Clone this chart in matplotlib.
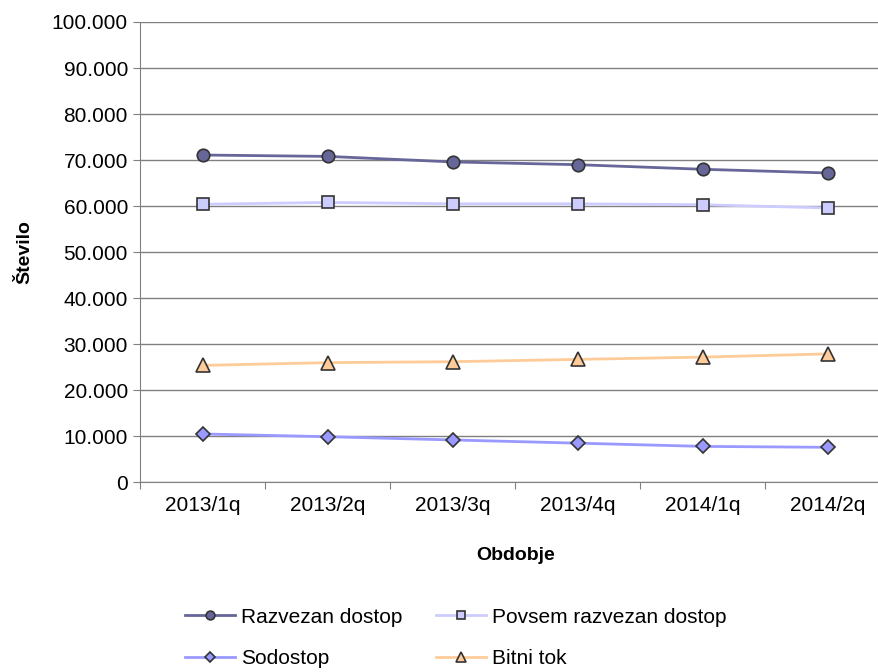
import numpy as np
import matplotlib.pyplot as plt
from matplotlib.ticker import FuncFormatter, FixedLocator

plt.rcParams['font.family'] = ['Liberation Sans', 'DejaVu Sans']

# --- podatki ---
obdobja = ['2013/1q', '2013/2q', '2013/3q', '2013/4q', '2014/1q', '2014/2q']
razvezan = [71100, 70800, 69600, 69000, 68000, 67200]
povsem = [60400, 60800, 60500, 60500, 60300, 59600]
sodostop = [10500, 9900, 9200, 8500, 7800, 7600]
bitni_tok = [25400, 26000, 26200, 26700, 27200, 27900]

fig = plt.figure(figsize=(8.79, 6.72), dpi=100)
ax = fig.add_axes([140.5 / 879, (672 - 482.3) / 672, 750 / 879, (482.3 - 22) / 672])

x = np.arange(len(obdobja))
edge = '#333333'
l1, = ax.plot(x, razvezan, color='#666699', lw=2, marker='o', ms=9, mfc='#666699', mec=edge, mew=1.2,
              label='Razvezan dostop', zorder=3)
l2, = ax.plot(x, povsem, color='#ccccff', lw=2, marker='s', ms=9, mfc='#ccccff', mec=edge, mew=1.2,
              label='Povsem razvezan dostop', zorder=3)
l3, = ax.plot(x, sodostop, color='#9999ff', lw=2, marker='D', ms=7, mfc='#9999ff', mec=edge, mew=1.2,
              label='Sodostop', zorder=3)
l4, = ax.plot(x, bitni_tok, color='#ffcc99', lw=2, marker='^', ms=10, mfc='#ffcc99', mec=edge, mew=1.2,
              label='Bitni tok', zorder=3)

ax.set_xlim(-0.5, len(obdobja) - 0.5)
ax.set_ylim(0, 100000)
ax.set_yticks(np.arange(0, 100001, 10000))
ax.yaxis.set_major_formatter(FuncFormatter(lambda v, p: f'{int(v):,}'.replace(',', '.')))
ax.yaxis.grid(True, color='#808080', lw=1)
ax.set_axisbelow(True)

# kljukice med kategorijami, napisi na sredini
ax.xaxis.set_major_locator(FixedLocator(np.arange(-0.5, len(obdobja), 1.0)))
ax.xaxis.set_major_formatter(FuncFormatter(lambda v, p: ''))
ax.set_xticks(x, minor=True)
ax.set_xticklabels(obdobja, minor=True)
ax.tick_params(axis='x', which='minor', length=0, pad=10, labelsize=15)
ax.tick_params(axis='x', which='major', length=5, color='#808080')
ax.tick_params(axis='y', length=5, color='#808080', labelsize=15, pad=4)

for s in ['top', 'right']:
    ax.spines[s].set_visible(False)
for s in ['left', 'bottom']:
    ax.spines[s].set_color('#808080')

ax.set_xlabel('Obdobje', fontsize=14, fontweight='bold', labelpad=23)
ax.set_ylabel('Število', fontsize=14, fontweight='bold', labelpad=13)

# vrstni red kot v izvirniku (po vrsticah)
fig.legend([l1, l3, l2, l4], [l.get_label() for l in [l1, l3, l2, l4]],
           loc='upper left', bbox_to_anchor=(170 / 879, 1 - 593 / 672), ncol=2, frameon=False,
           fontsize=15, handlelength=2.4, columnspacing=1.6, labelspacing=1.1, handletextpad=0.3,
           markerscale=0.7, borderpad=0.2)

plt.savefig('out.png', dpi=100)
